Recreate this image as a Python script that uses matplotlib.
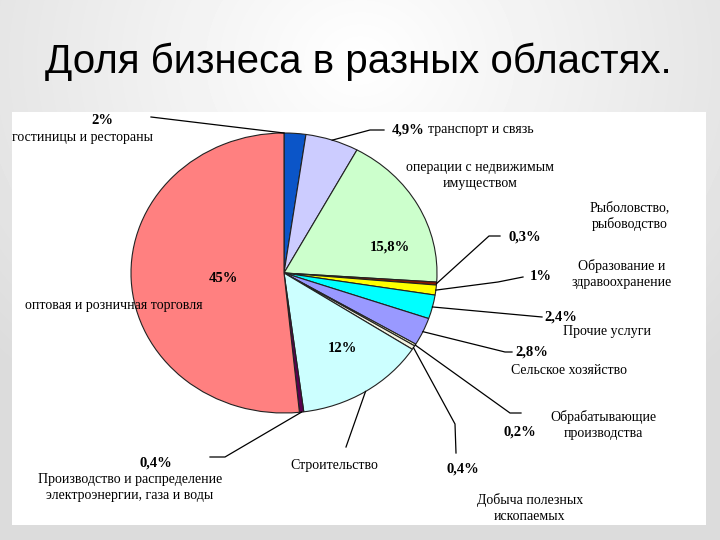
import numpy as np
import matplotlib
matplotlib.use("Agg")
import matplotlib.pyplot as plt
from matplotlib.patches import Rectangle

# data, clockwise from 12 o'clock
shares = [2, 4.9, 15.8, 0.3, 1, 2.4, 2.8, 0.2, 0.4, 12, 0.4, 45]
pct_labels = ["2%", "4,9%", "15,8%", "0,3%", "1%", "2,4%", "2,8%",
              "0,2%", "0,4%", "12%", "0,4%", "45%"]
names = ["гостиницы и рестораны", "транспорт и связь",
         "операции с недвижимым\nимуществом", "Рыболовство,\nрыбоводство",
         "Образование и\nздравоохранение", "Прочие услуги",
         "Сельское хозяйство", "Обрабатывающие\nпроизводства",
         "Добыча полезных\nископаемых", "Строительство",
         "Производство и распределение\nэлектроэнергии, газа и воды",
         "оптовая и розничная торговля"]
colors = ["#0B55C8", "#CCCCFF", "#CCFFCC", "#8B1A00", "#FFFF00", "#00FFFF",
          "#9999FF", "#FFFFCC", "#F4F4E0", "#CCFFFF", "#5A0050", "#FF8080"]

W, H = 720, 540
fig = plt.figure(figsize=(W / 100, H / 100), dpi=100)

# slide background with soft gradient
bg = fig.add_axes([0, 0, 1, 1])
yy, xx = np.mgrid[0:H, 0:W]
d = np.sqrt(((xx - W / 2) / (W * 0.7)) ** 2 + ((yy - 60) / (H * 0.8)) ** 2)
bg.imshow(1 - 0.14 * np.clip(d, 0, 1), cmap="gray", vmin=0, vmax=1,
          extent=[0, W, H, 0], aspect="auto")
bg.set_xlim(0, W)
bg.set_ylim(H, 0)
bg.axis("off")
bg.add_patch(Rectangle((12, 112), 694, 413, facecolor="white", edgecolor="none"))

bg.text(358, 62, "Доля бизнеса в разных областях.", fontsize=29,
        family="Liberation Sans", ha="center", va="center", color="black")

# pie (slightly wider than tall, as in the picture)
cx, cy, rx, ry = 284, 273, 153, 140
ax = fig.add_axes([(cx - rx) / W, 1 - (cy + ry) / H, 2 * rx / W, 2 * ry / H])
wedges, _ = ax.pie(shares, colors=colors, startangle=90, counterclock=False,
                   wedgeprops=dict(edgecolor="#222222", linewidth=0.8))
ax.set_aspect("auto")
ax.set_xlim(-1, 1)
ax.set_ylim(-1, 1)
ax.axis("off")

# overlay for labels and leader lines
top = fig.add_axes([0, 0, 1, 1])
top.set_xlim(0, W)
top.set_ylim(H, 0)
top.axis("off")
top.patch.set_alpha(0)
fig.canvas.draw()

def anchor(i, where="mid"):
    w = wedges[i]
    t = {"mid": (w.theta1 + w.theta2) / 2, "end": w.theta2}[where]
    p = ax.transData.transform((np.cos(np.radians(t)), np.sin(np.radians(t))))
    return top.transData.inverted().transform(p)

serif = "Liberation Serif"
lw = 0.9

def leader(i, pts, where="mid"):
    a = anchor(i, where)
    xs = [a[0]] + [p[0] for p in pts]
    ys = [a[1]] + [p[1] for p in pts]
    top.plot(xs, ys, color="black", lw=lw)

def pct(x, y, s, ha="center"):
    top.text(x, y, s, fontsize=10.5, weight="bold", family=serif,
             ha=ha, va="center")

def name(x, y, s, ha="center"):
    top.text(x, y, s, fontsize=10, family=serif, ha=ha, va="center",
             linespacing=1.3)

# 2%
leader(0, [(151, 117)], "end")
pct(102, 120, pct_labels[0])
name(12, 137, names[0], ha="left")
# 4,9%
leader(1, [(370, 130), (384, 130)])
pct(408, 130, pct_labels[1])
name(428, 130, names[1], ha="left")
# 15,8%
name(480, 175, names[2])
pct(390, 247, pct_labels[2])
# 0,3%
leader(3, [(489, 236), (500, 236)])
pct(525, 237, pct_labels[3])
name(630, 216, names[3])
# 1%
leader(4, [(498, 282), (523, 277)])
pct(541, 277, pct_labels[4])
name(622, 274, names[4])
# 2,4%
leader(5, [(542, 317)])
pct(561, 317, pct_labels[5])
name(607, 331, names[5])
# 2,8%
leader(6, [(505, 352), (512, 352)])
pct(532, 352, pct_labels[6])
name(569, 370, names[6])
# 0,2%
leader(7, [(510, 413), (521, 413)])
pct(520, 432, pct_labels[7])
name(603, 425, names[7])
# 0,4% mining
leader(8, [(455, 424), (456, 453)])
pct(463, 469, pct_labels[8])
name(530, 508, names[8])
# 12%
leader(9, [(346, 447)])
pct(342, 348, pct_labels[9])
name(334, 465, names[9])
# 0,4% energy
leader(10, [(225, 457), (210, 457)])
pct(156, 463, pct_labels[10])
name(130, 487, names[10])
# 45%
pct(223, 279, pct_labels[11])
name(25, 305, names[11], ha="left")

fig.savefig("out.png", dpi=100)
